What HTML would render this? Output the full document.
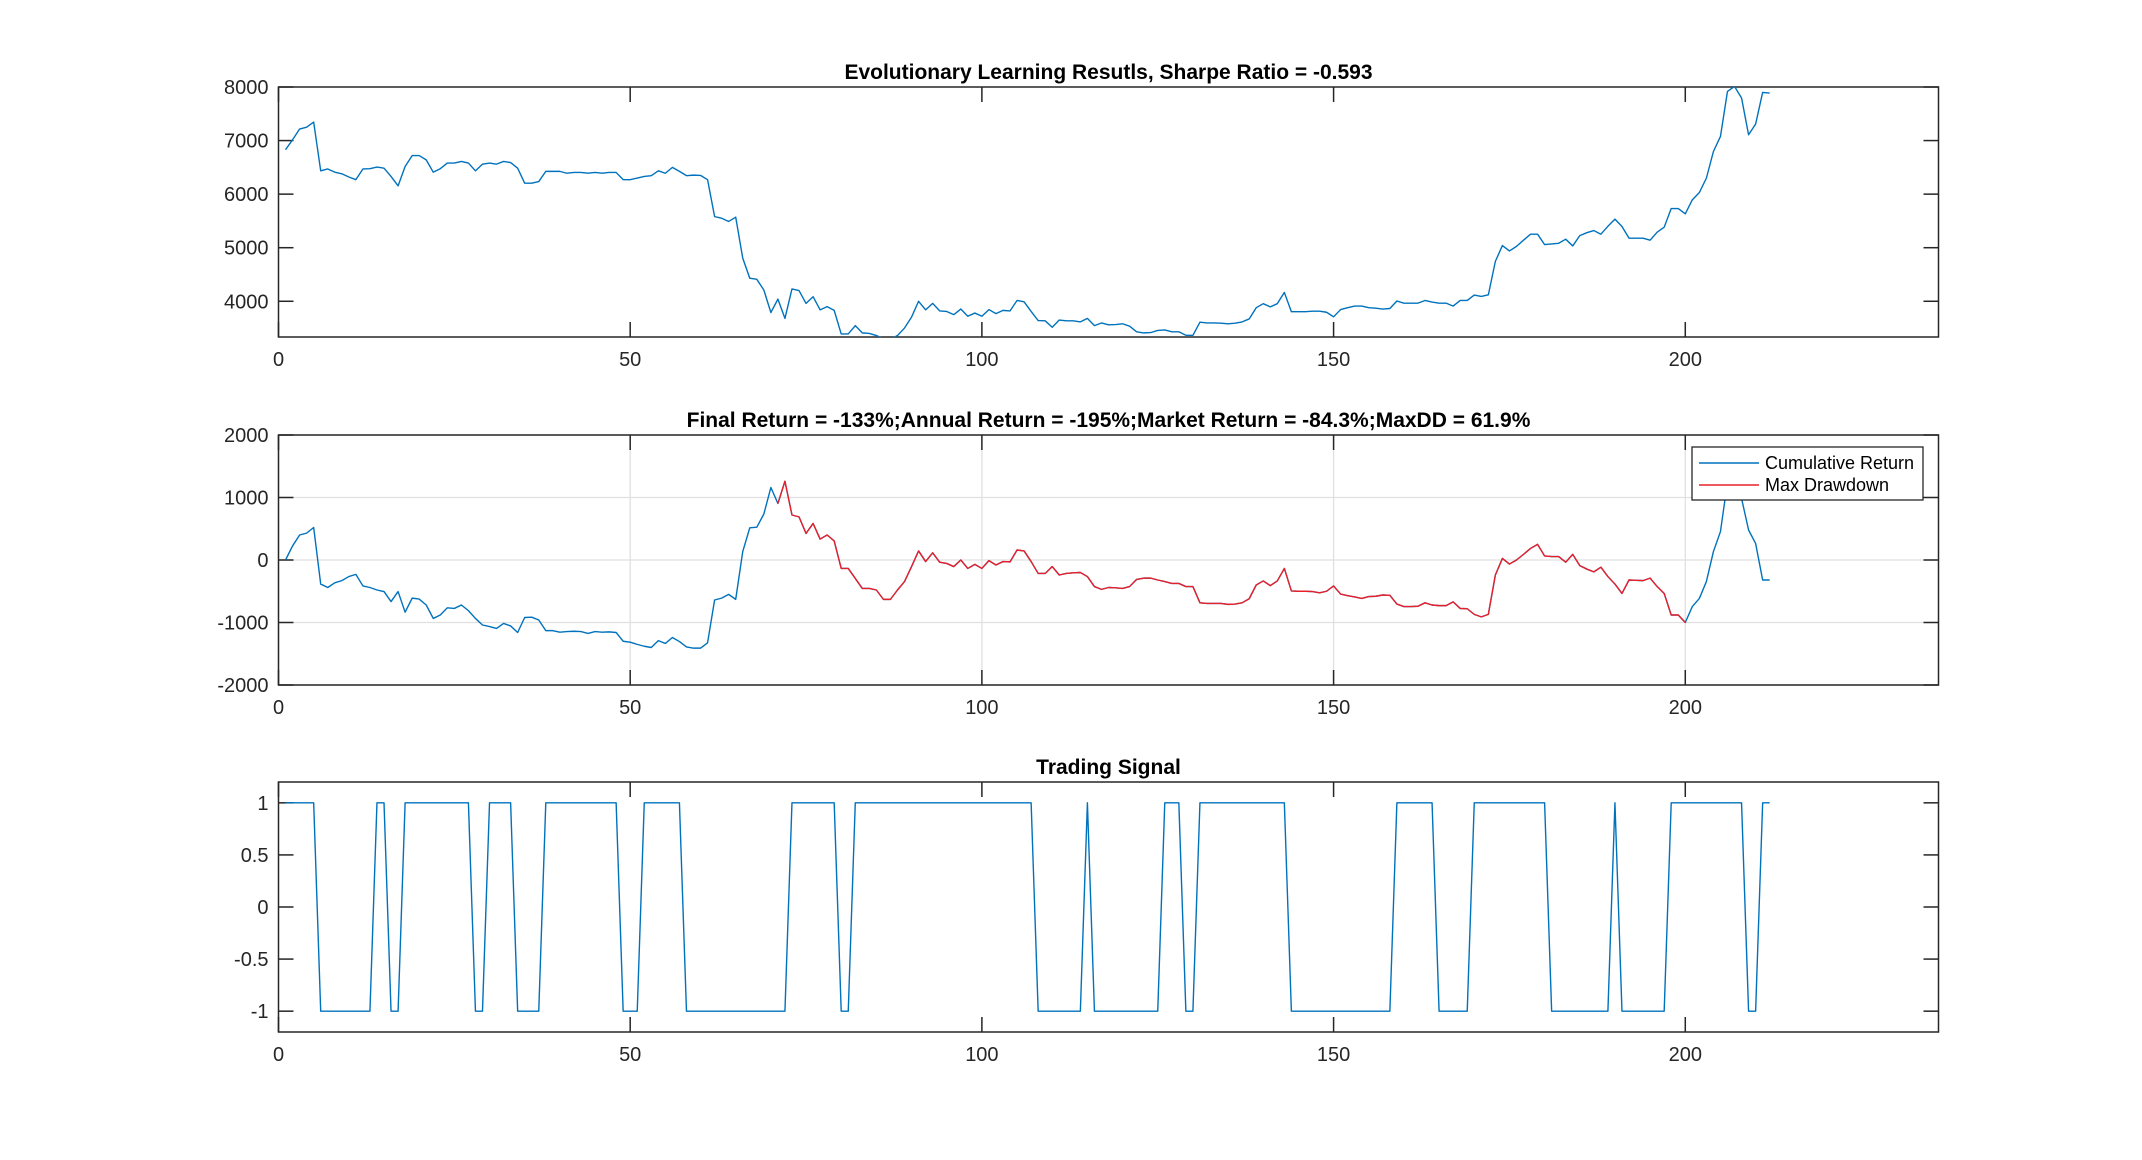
<!DOCTYPE html>
<html><head><meta charset="utf-8"><style>
html,body{margin:0;padding:0;background:#fff;}
svg{display:block;font-family:"Liberation Sans",Arial,sans-serif;}
</style></head><body>
<svg id="fig" width="2142" height="1160" viewBox="0 0 2142 1160"></svg>
<script>
const xTickLabels=[0,50,100,150,200];
const xLimits=[0,236];
const equityTicks=[4000,5000,6000,7000,8000];
const equityLimits=[3333,8000];
const returnTicks=[-2000,-1000,0,1000,2000];
const returnLimits=[-2000,2000];
const signalTicks=[-1,-0.5,0,0.5,1];
const signalTickLabels=["-1","-0.5","0","0.5","1"];
const signalLimits=[-1.2,1.2];
const equity=[6830,7015,7215,7250,7345,6435,6470,6410,6380,6320,
6270,6470,6475,6505,6485,6330,6155,6515,6720,6720,
6640,6410,6475,6580,6580,6610,6580,6435,6560,6580,
6560,6610,6590,6485,6205,6205,6235,6425,6425,6425,
6390,6405,6405,6390,6405,6390,6405,6405,6270,6270,
6300,6330,6345,6435,6390,6500,6425,6345,6355,6350,
6270,5580,5550,5490,5570,4805,4430,4410,4210,3790,
4040,3680,4230,4200,3960,4085,3840,3900,3830,3390,
3390,3545,3410,3400,3360,3300,3290,3360,3500,3705,
4000,3840,3960,3820,3810,3750,3855,3720,3780,3720,
3845,3770,3830,3820,4015,3990,3810,3640,3635,3515,
3650,3635,3635,3615,3680,3545,3595,3560,3565,3580,
3535,3430,3410,3415,3455,3465,3430,3430,3365,3365,
3610,3595,3595,3590,3580,3590,3615,3670,3880,3955,
3895,3955,4165,3805,3805,3805,3815,3815,3795,3710,
3845,3880,3910,3910,3880,3870,3855,3865,4005,3965,
3965,3965,4015,3985,3965,3965,3910,4015,4015,4115,
4090,4120,4745,5040,4940,5025,5140,5252,5252,5058,
5070,5083,5159,5033,5226,5280,5320,5252,5400,5533,
5395,5178,5178,5178,5140,5290,5383,5731,5731,5632,
5893,6030,6299,6796,7077,7918,8011,7794,7108,7308,7899,7887];
const cumReturn=[0,225,400,430,520,-385,-440,-365,-330,-265,
-230,-415,-440,-480,-505,-665,-505,-835,-610,-625,
-720,-935,-880,-765,-775,-720,-810,-935,-1040,-1065,
-1095,-1015,-1055,-1160,-920,-915,-960,-1130,-1130,-1155,
-1145,-1140,-1145,-1175,-1145,-1155,-1150,-1160,-1300,-1315,
-1350,-1380,-1400,-1290,-1335,-1240,-1305,-1390,-1410,-1410,
-1325,-640,-610,-550,-630,135,515,525,735,1160,
905,1260,720,690,425,585,335,400,305,-135,
-135,-295,-455,-455,-480,-630,-630,-480,-345,-105,
145,-25,115,-35,-55,-105,0,-135,-70,-135,
-10,-80,-25,-30,160,145,-25,-215,-215,-105,
-240,-215,-205,-200,-265,-425,-470,-440,-445,-455,
-425,-310,-290,-290,-320,-345,-375,-375,-425,-425,
-685,-695,-695,-695,-710,-705,-685,-620,-400,-335,
-410,-335,-135,-495,-500,-500,-505,-525,-500,-415,
-545,-570,-590,-615,-585,-580,-560,-565,-705,-745,
-745,-740,-685,-720,-730,-730,-670,-775,-780,-870,
-910,-870,-240,25,-65,0,90,185,250,65,
55,55,-35,90,-90,-145,-190,-115,-265,-385,
-535,-320,-325,-330,-290,-425,-535,-880,-880,-1000,
-745,-615,-345,135,455,1250,1300,985,480,265,-320,-320];
const drawdownRange=[71,200];
const signal=[1,1,1,1,1,-1,-1,-1,-1,-1,-1,-1,-1,1,1,-1,-1,
1,1,1,1,1,1,1,1,1,1,-1,-1,1,1,1,1,-1,-1,-1,-1,
1,1,1,1,1,1,1,1,1,1,1,-1,-1,-1,1,1,1,1,1,1,
-1,-1,-1,-1,-1,-1,-1,-1,-1,-1,-1,-1,-1,-1,-1,
1,1,1,1,1,1,1,-1,-1,
1,1,1,1,1,1,1,1,1,1,1,1,1,1,1,1,1,1,1,1,1,1,1,1,1,1,
-1,-1,-1,-1,-1,-1,-1,1,-1,-1,-1,-1,-1,-1,-1,-1,-1,-1,
1,1,1,-1,-1,1,1,1,1,1,1,1,1,1,1,1,1,1,
-1,-1,-1,-1,-1,-1,-1,-1,-1,-1,-1,-1,-1,-1,-1,
1,1,1,1,1,1,-1,-1,-1,-1,-1,
1,1,1,1,1,1,1,1,1,1,1,-1,-1,-1,-1,-1,-1,-1,-1,-1,
1,-1,-1,-1,-1,-1,-1,-1,1,1,1,1,1,1,1,1,1,1,1,-1,-1,1,1];

const NS="http://www.w3.org/2000/svg";
const svg=document.getElementById('fig');
function mk(tag,attrs,parent){const e=document.createElementNS(NS,tag);for(const k in attrs)e.setAttribute(k,attrs[k]);(parent||svg).appendChild(e);return e;}
const AX_L=278.5,AX_R=1938.5,AX_H=250;
const BLUE="#0072BD",RED="#E8202A",INK="#262626";
function xs(v){return AX_L+(v-xLimits[0])/(xLimits[1]-xLimits[0])*(AX_R-AX_L);}
function makeY(top,lim){return v=>top+AX_H-(v-lim[0])/(lim[1]-lim[0])*AX_H;}

function axes(name,top,lim,yticks,ylabels,title,grid){
  const g=mk('g',{});
  
  
  const ys=makeY(top,lim);
  if(grid){
    yticks.forEach(t=>{const l=mk('line',{x1:AX_L,x2:AX_R,y1:ys(t),y2:ys(t),stroke:'#e0e0e0','stroke-width':1.3},g);
      });
    xTickLabels.forEach(t=>{const l=mk('line',{x1:xs(t),x2:xs(t),y1:top,y2:top+AX_H,stroke:'#e0e0e0','stroke-width':1.3},g);
      });
  }
  const box=mk('rect',{x:AX_L,y:top,width:AX_R-AX_L,height:AX_H,fill:'none',stroke:INK,'stroke-width':1.5},g);
  
  yticks.forEach((t,i)=>{const y=ys(t);
    mk('line',{x1:AX_L,x2:AX_L+15,y1:y,y2:y,stroke:INK,'stroke-width':1.5},g);
    mk('line',{x1:AX_R-15,x2:AX_R,y1:y,y2:y,stroke:INK,'stroke-width':1.5},g);
    const tx=mk('text',{x:AX_L-10,y:y+7,'text-anchor':'end','font-size':20,fill:INK},g);
    tx.textContent=ylabels[i];
    });
  xTickLabels.forEach(t=>{const x=xs(t);
    mk('line',{x1:x,x2:x,y1:top,y2:top+15,stroke:INK,'stroke-width':1.5},g);
    mk('line',{x1:x,x2:x,y1:top+AX_H-15,y2:top+AX_H,stroke:INK,'stroke-width':1.5},g);
    const tx=mk('text',{x:x,y:top+AX_H+29,'text-anchor':'middle','font-size':20,fill:INK},g);
    tx.textContent=String(t);
    });
  const tt=mk('text',{x:(AX_L+AX_R)/2,y:top-8,'text-anchor':'middle','font-size':21,'font-weight':'bold',fill:'#000'},g);
  tt.textContent=title;
  
  const cid='clip'+name;
  const cp=mk('clipPath',{id:cid},g);
  mk('rect',{x:AX_L,y:top,width:AX_R-AX_L,height:AX_H},cp);
  return {g,ys,cid};
}
function series(ax,vals,startIdx,color,name){
  const pts=vals.map((v,i)=>xs(startIdx+i).toFixed(2)+','+ax.ys(v).toFixed(2)).join(' ');
  const p=mk('polyline',{points:pts,fill:'none',stroke:color,'stroke-width':1.4,'stroke-linejoin':'round','clip-path':'url(#'+ax.cid+')'},ax.g);
  
  
}

const a1=axes('equity-axes',87,equityLimits,equityTicks,equityTicks.map(String),'Evolutionary Learning Resutls, Sharpe Ratio = -0.593',false);
series(a1,equity,1,BLUE,'equity-line');

const a2=axes('return-axes',435,returnLimits,returnTicks,returnTicks.map(String),'Final Return = -133%;Annual Return = -195%;Market Return = -84.3%;MaxDD = 61.9%',true);
series(a2,cumReturn,1,BLUE,'cumulative-return-line');
series(a2,cumReturn.slice(drawdownRange[0]-1,drawdownRange[1]),drawdownRange[0],RED,'max-drawdown-line');

const lg=mk('g',{},a2.g);


mk('rect',{x:1692,y:447,width:231,height:53,fill:'#fff',stroke:INK,'stroke-width':1.3},lg);
mk('line',{x1:1699,x2:1759,y1:463,y2:463,stroke:BLUE,'stroke-width':1.4},lg);
mk('line',{x1:1699,x2:1759,y1:485,y2:485,stroke:RED,'stroke-width':1.4},lg);
const l1=mk('text',{x:1765,y:469,'font-size':18,fill:'#000'},lg);l1.textContent='Cumulative Return';

const l2=mk('text',{x:1765,y:491,'font-size':18,fill:'#000'},lg);l2.textContent='Max Drawdown';


const a3=axes('signal-axes',782,signalLimits,signalTicks,signalTickLabels,'Trading Signal',false);
series(a3,signal,1,BLUE,'trading-signal-line');
</script>
</body></html>
